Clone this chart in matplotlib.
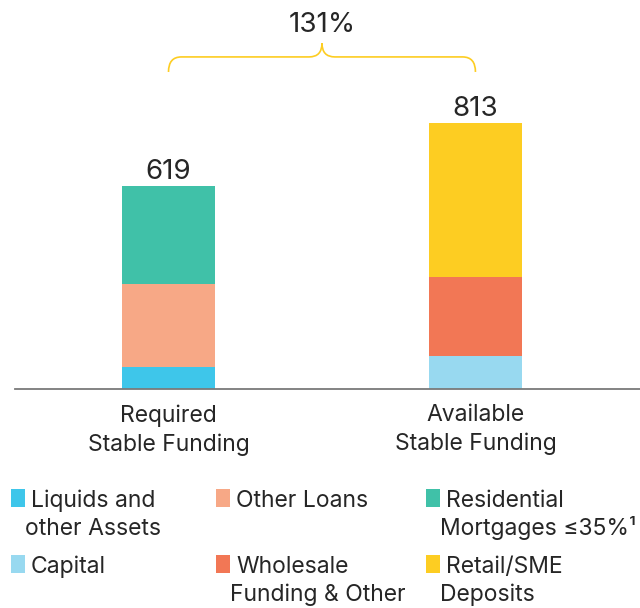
import matplotlib
matplotlib.use('Agg')
import matplotlib.pyplot as plt
from matplotlib.path import Path
from matplotlib.patches import PathPatch, Rectangle

plt.rcParams['font.family'] = ['Inter', 'DejaVu Sans']

# data
categories = ['Required\nStable Funding', 'Available\nStable Funding']
totals = [619, 813]
ratio_label = '131%'

required_parts = [67, 255, 297]      # Liquids, Other Loans, Residential
available_parts = [101, 241, 471]    # Capital, Wholesale, Retail/SME

required_colors = ['#3ec6ea', '#f7a886', '#40c1a8']
available_colors = ['#98d9f0', '#f27755', '#fdcd22']

legend_labels = [
    'Liquids and\nother Assets', 'Other Loans', 'Residential\nMortgages \u226435%\u00b9',
    'Capital', 'Wholesale\nFunding & Other', 'Retail/SME\nDeposits',
]
legend_colors = ['#3ec6ea', '#f7a886', '#40c1a8', '#98d9f0', '#f27755', '#fdcd22']

text_col = '#262626'
brace_col = '#fdcd22'

fig = plt.figure(figsize=(6.4, 6.08), dpi=100)
ax = fig.add_axes([15 / 640, 1 - 389 / 608, 625 / 640, 389 / 608])

width = 0.303
x = [0, 1]

bottom = 0
for v, c in zip(required_parts, required_colors):
    ax.bar(x[0], v, width, bottom=bottom, color=c, linewidth=0)
    bottom += v
bottom = 0
for v, c in zip(available_parts, available_colors):
    ax.bar(x[1], v, width, bottom=bottom, color=c, linewidth=0)
    bottom += v

for xi, t in zip(x, totals):
    ax.annotate(str(t), (xi, t), xytext=(0, 1), textcoords='offset points',
                ha='center', va='bottom', fontsize=20, color=text_col)

ax.set_xlim(-0.5, 1.536)
ax.set_ylim(0, 1189)

# brace between the two bars
y_end, y_mid, y_tip = 969, 1015, 1057
r = 0.042
xc = (x[0] + x[1]) / 2
verts = [
    (x[0], y_end), (x[0], y_mid), (x[0] + r, y_mid),
    (xc - r, y_mid), (xc, y_mid), (xc, y_tip),
    (xc, y_mid), (xc + r, y_mid),
    (x[1] - r, y_mid), (x[1], y_mid), (x[1], y_end),
]
codes = [Path.MOVETO, Path.CURVE3, Path.CURVE3,
         Path.LINETO, Path.CURVE3, Path.CURVE3,
         Path.CURVE3, Path.CURVE3,
         Path.LINETO, Path.CURVE3, Path.CURVE3]
ax.add_patch(PathPatch(Path(verts, codes), fill=False, edgecolor=brace_col,
                       linewidth=1.2, clip_on=False))
ax.annotate(ratio_label, (xc, y_tip), xytext=(0, 4), textcoords='offset points',
            ha='center', va='bottom', fontsize=20, color=text_col)

ax.set_xticks(x)
ax.set_xticklabels(categories, fontsize=16.5, color=text_col, linespacing=1.38)
ax.tick_params(axis='x', length=0, pad=11)
ax.set_yticks([])
for s in ['top', 'right', 'left']:
    ax.spines[s].set_visible(False)
ax.spines['bottom'].set_color('#7a7a7a')
ax.spines['bottom'].set_linewidth(1.3)

# legend, three columns, two rows
col_x = [11, 216, 426]
row_y = [489, 555]
for i, (lab, c) in enumerate(zip(legend_labels, legend_colors)):
    cx = col_x[i % 3]
    ry = row_y[i // 3]
    fig.patches.append(Rectangle((cx / 640, 1 - (ry + 18) / 608), 14 / 640, 18 / 608,
                                 transform=fig.transFigure, color=c, linewidth=0))
    lines = lab.split('\n')
    fig.text((cx + 20) / 640, 1 - (ry + 18) / 608, lines[0], fontsize=16.5,
             color=text_col, va='baseline', ha='left')
    if len(lines) > 1:
        fig.text((cx + 14) / 640, 1 - (ry + 46) / 608, lines[1], fontsize=16.5,
                 color=text_col, va='baseline', ha='left')

fig.savefig('out.png', dpi=100)
